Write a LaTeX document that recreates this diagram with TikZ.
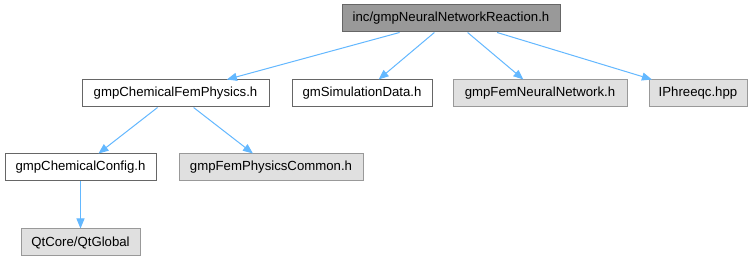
\documentclass[tikz,border=0pt]{standalone}
\usepackage{fontspec}
\setmainfont{Liberation Sans}
\usetikzlibrary{arrows.meta}
\definecolor{edgeblue}{HTML}{63B8FF}
\definecolor{rootfill}{HTML}{999999}
\definecolor{darkborder}{HTML}{666666}
\definecolor{grayfill}{HTML}{E0E0E0}
\definecolor{grayborder}{HTML}{999999}
\begin{document}
\begin{tikzpicture}[x=1pt,y=-1pt,
  box/.style={draw=darkborder,line width=1pt,fill=white,minimum height=27pt,inner sep=0pt,font=\fontsize{13.2}{15}\selectfont},
  rootbox/.style={box,fill=rootfill},
  extbox/.style={box,draw=grayborder,fill=grayfill},
  dep/.style={draw=edgeblue,line width=1pt,-{Triangle[length=10pt,width=8pt]}}]
\useasboundingbox[fill=white] (0,0) rectangle (754,261);
\node[rootbox,minimum width=218pt] (root) at (451,18.5) {inc/gmpNeuralNetworkReaction.h};
\node[box,minimum width=187pt] (cfp) at (175.5,93.5) {gmpChemicalFemPhysics.h};
\node[box,minimum width=140pt] (sim) at (362,93.5) {gmSimulationData.h};
\node[extbox,minimum width=174pt] (fnn) at (540,93.5) {gmpFemNeuralNetwork.h};
\node[extbox,minimum width=98pt] (iph) at (698,93.5) {IPhreeqc.hpp};
\node[box,minimum width=151pt] (cfg) at (80.5,167.5) {gmpChemicalConfig.h};
\node[extbox,minimum width=184pt] (fpc) at (271,167.5) {gmpFemPhysicsCommon.h};
\node[extbox,minimum width=119pt] (qt) at (80.5,242.5) {QtCore/QtGlobal};
\draw[dep] (root) -- (cfp);
\draw[dep] (root) -- (sim);
\draw[dep] (root) -- (fnn);
\draw[dep] (root) -- (iph);
\draw[dep] (cfp) -- (cfg);
\draw[dep] (cfp) -- (fpc);
\draw[dep] (cfg) -- (qt);
\end{tikzpicture}
\end{document}
